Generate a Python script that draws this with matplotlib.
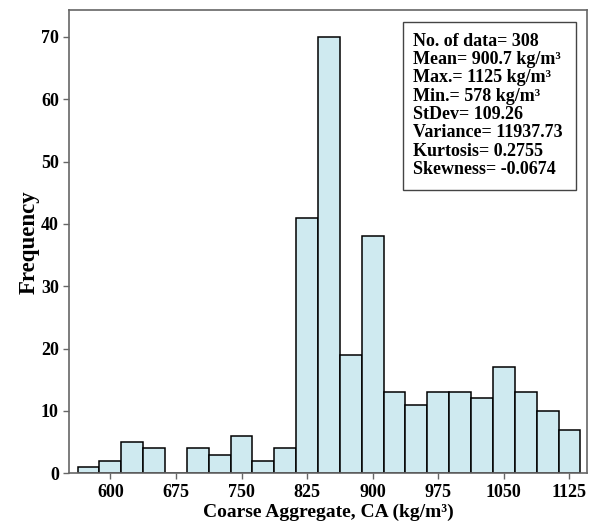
import matplotlib.pyplot as plt
from matplotlib.patches import Rectangle

# histogram of coarse aggregate content, 25 kg/m3 bins
bin_centers = [575, 600, 625, 650, 675, 700, 725, 750, 775, 800, 825, 850,
               875, 900, 925, 950, 975, 1000, 1025, 1050, 1075, 1100, 1125]
counts = [1, 2, 5, 4, 0, 4, 3, 6, 2, 4, 41, 70,
          19, 38, 13, 11, 13, 13, 12, 17, 13, 10, 7]
x_ticks = [600, 675, 750, 825, 900, 975, 1050, 1125]
y_ticks = [0, 10, 20, 30, 40, 50, 60, 70]

stats = ["No. of data= 308",
         "Mean= 900.7 kg/m\u00b3",
         "Max.= 1125 kg/m\u00b3",
         "Min.= 578 kg/m\u00b3",
         "StDev= 109.26",
         "Variance= 11937.73",
         "Kurtosis= 0.2755",
         "Skewness= -0.0674"]

plt.rcParams['font.family'] = ['Liberation Serif', 'DejaVu Serif']
plt.rcParams['font.weight'] = 'bold'

fig = plt.figure(figsize=(6.02, 5.27), dpi=100)
ax = fig.add_axes([0.115, 0.102, 0.86, 0.879])

ax.bar(bin_centers, counts, width=25, color='#cfeaf0', edgecolor='black',
       linewidth=1.1)

ax.set_xlim(553, 1145)
ax.set_ylim(0, 74.3)
ax.set_xticks(x_ticks)
ax.set_yticks(y_ticks)
ax.tick_params(labelsize=13, length=4, width=1, color='#666666')
for lab in ax.get_xticklabels() + ax.get_yticklabels():
    lab.set_fontweight('bold')
for sp in ax.spines.values():
    sp.set_color('#666666')
    sp.set_linewidth(1.2)

ax.set_xlabel("Coarse Aggregate, CA (kg/m\u00b3)", fontsize=14, fontweight='bold',
              labelpad=2)
ax.set_ylabel("Frequency", fontsize=16.5, fontweight='bold', labelpad=1)

# statistics box
ax.add_patch(Rectangle((0.645, 0.611), 0.334, 0.363, transform=ax.transAxes,
                       facecolor='white', edgecolor='#444444', linewidth=1.0,
                       zorder=3))
ax.text(0.664, 0.951, "\n".join(stats), transform=ax.transAxes,
        ha='left', va='top', fontsize=13, fontweight='bold', linespacing=1.1,
        zorder=4)

plt.savefig('out.png')
